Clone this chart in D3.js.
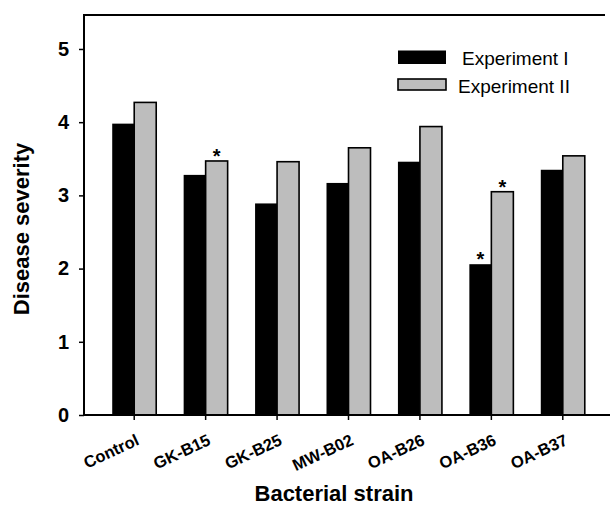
<!DOCTYPE html>
<html>
<head>
<meta charset="utf-8">
<script src="https://cdn.jsdelivr.net/npm/d3@7"></script>
<style>
  body { margin: 0; background: #fff; }
  text { font-family: "Liberation Sans", Arial, sans-serif; }
</style>
</head>
<body>
<svg id="chart" width="610" height="506"></svg>
<script>
var strains = ['Control', 'GK-B15', 'GK-B25', 'MW-B02', 'OA-B26', 'OA-B36', 'OA-B37'];
var seriesNames = ['Experiment I', 'Experiment II'];
var experiment1 = [3.98, 3.28, 2.89, 3.17, 3.46, 2.06, 3.35];
var experiment2 = [4.27, 3.47, 3.46, 3.65, 3.94, 3.05, 3.54];
var yTicks = [0, 1, 2, 3, 4, 5];
// significant differences marked with *
var starStrains = ['GK-B15', 'OA-B36', 'OA-B36'];
var starSeries = [1, 0, 1];

var colors = ['#000000', '#bdbdbd'];

var svg = d3.select('#chart');
var plotLeft = 84, plotRight = 610, plotTop = 15, plotBottom = 415;

var x0 = d3.scaleBand().domain(strains).range([98.5, 598.5])
  .paddingInner(0.384).paddingOuter(0.192);
var x1 = d3.scaleBand().domain([0, 1]).range([0, x0.bandwidth()]);
var y = d3.scaleLinear().domain([0, 5.464]).range([plotBottom, plotTop]);

var rows = strains.map(function (s, i) {
  return { strain: s, values: [experiment1[i], experiment2[i]] };
});

// bars
var groups = svg.append('g').selectAll('g').data(rows).enter().append('g')
  .attr('transform', function (d) { return 'translate(' + x0(d.strain) + ',0)'; });

groups.selectAll('rect').data(function (d) {
  return d.values.map(function (v, k) { return { k: k, v: v }; });
}).enter().append('rect')
  .attr('x', function (d) { return x1(d.k); })
  .attr('width', x1.bandwidth())
  .attr('y', function (d) { return y(d.v); })
  .attr('height', function (d) { return y(0) - y(d.v); })
  .attr('fill', function (d) { return colors[d.k]; })
  .attr('stroke', '#000')
  .attr('stroke-width', function (d) { return d.k === 1 ? 1.6 : 0; });

// asterisks
svg.append('g').selectAll('text').data(starStrains).enter().append('text')
  .attr('x', function (s, i) { return x0(s) + x1(starSeries[i]) + x1.bandwidth() / 2; })
  .attr('y', function (s, i) {
    var v = starSeries[i] === 0 ? experiment1[strains.indexOf(s)] : experiment2[strains.indexOf(s)];
    return y(v) + 2;
  })
  .attr('text-anchor', 'middle')
  .style('font-size', '20px')
  .style('font-weight', 'bold')
  .text('*');

// y axis
var yAxis = svg.append('g').attr('transform', 'translate(' + plotLeft + ',0)')
  .call(d3.axisLeft(y).tickValues(yTicks).tickFormat(d3.format('d')).tickSize(5).tickPadding(10));
yAxis.select('.domain').remove();
yAxis.selectAll('line').attr('stroke-width', 1.5);
yAxis.selectAll('text').style('font-size', '20px').style('font-weight', 'bold')
  .attr('fill', '#000');

// x axis ticks and labels
var xAxis = svg.append('g').attr('transform', 'translate(0,' + plotBottom + ')')
  .call(d3.axisBottom(x0).tickSize(5).tickSizeOuter(0));
xAxis.select('.domain').remove();
xAxis.selectAll('line').attr('stroke-width', 1.5);
xAxis.selectAll('text')
  .attr('text-anchor', 'end')
  .attr('y', 0).attr('dy', 0)
  .attr('transform', 'translate(6,29) rotate(-25)')
  .style('font-size', '16.5px').style('font-weight', 'bold').attr('fill', '#000');

// frame
var frame = svg.append('g').attr('stroke', '#000').attr('fill', 'none');
frame.append('line').attr('x1', plotLeft).attr('x2', plotLeft).attr('y1', plotTop - 1).attr('y2', plotBottom + 1).attr('stroke-width', 2);
frame.append('line').attr('x1', plotLeft).attr('x2', 605).attr('y1', plotTop).attr('y2', plotTop).attr('stroke-width', 2);
frame.append('line').attr('x1', plotLeft).attr('x2', plotRight).attr('y1', plotBottom).attr('y2', plotBottom).attr('stroke-width', 2);

// axis titles
svg.append('text').attr('transform', 'translate(29,229) rotate(-90)')
  .attr('text-anchor', 'middle')
  .style('font-size', '22px').style('font-weight', 'bold')
  .text('Disease severity');
svg.append('text').attr('x', 334).attr('y', 501)
  .attr('text-anchor', 'middle')
  .style('font-size', '22px').style('font-weight', 'bold')
  .text('Bacterial strain');

// legend
var legend = svg.append('g').attr('transform', 'translate(398,50)');
var legItems = legend.selectAll('g').data(seriesNames).enter().append('g')
  .attr('transform', function (d, i) { return 'translate(0,' + i * 28 + ')'; });
legItems.append('rect')
  .attr('y', function (d, i) { return i === 0 ? 0.5 : 1; })
  .attr('width', 48)
  .attr('height', function (d, i) { return i === 0 ? 13.5 : 11; })
  .attr('fill', function (d, i) { return colors[i]; })
  .attr('stroke', '#000')
  .attr('stroke-width', function (d, i) { return i === 1 ? 1.6 : 0; });
legItems.append('text')
  .attr('x', function (d, i) { return i === 0 ? 64 : 60; })
  .attr('y', 15)
  .style('font-size', '19px')
  .text(function (d) { return d; });
</script>
</body>
</html>
